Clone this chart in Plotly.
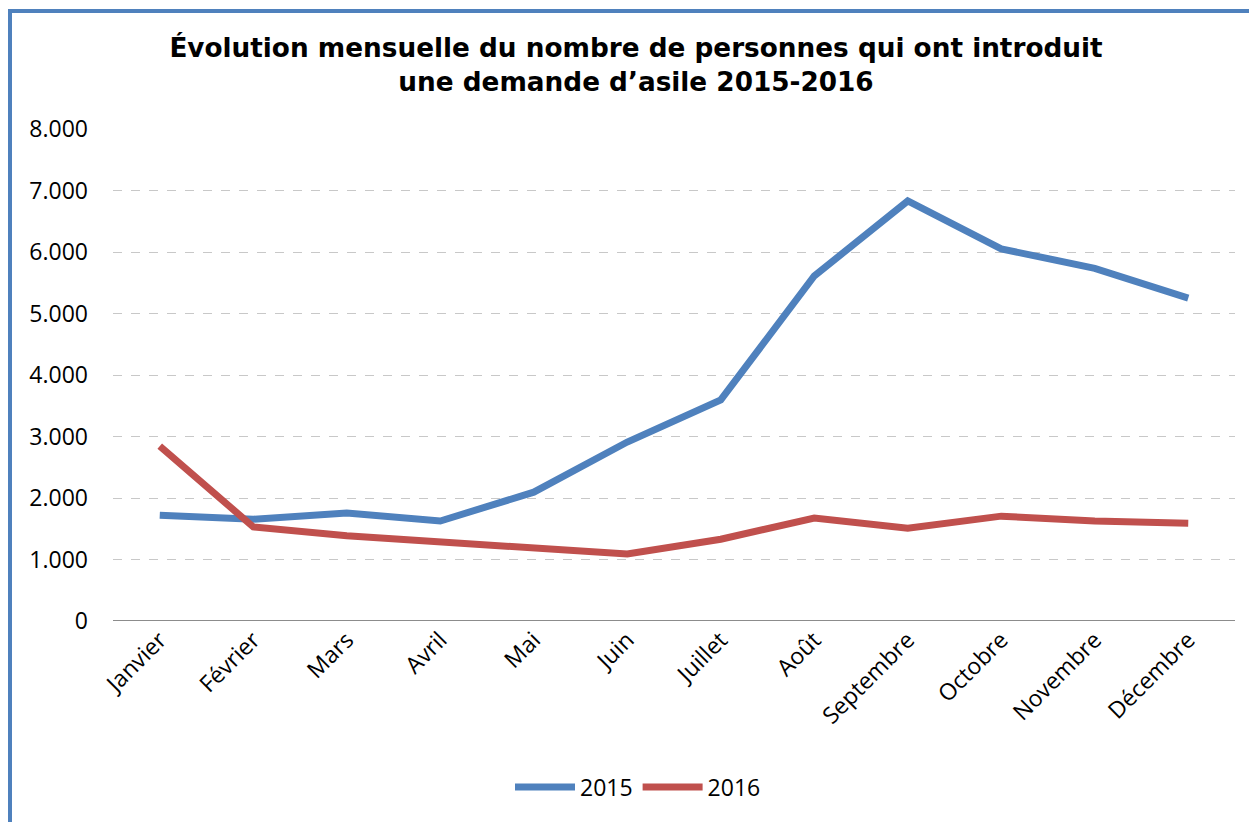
import plotly.graph_objects as go

months = ["Janvier", "Février", "Mars", "Avril", "Mai", "Juin", "Juillet",
          "Août", "Septembre", "Octobre", "Novembre", "Décembre"]
v2015 = [1720, 1655, 1755, 1625, 2095, 2910, 3595, 5610, 6830, 6050, 5735, 5250]
v2016 = [2845, 1530, 1385, 1290, 1205, 1090, 1330, 1675, 1510, 1705, 1625, 1590]
yticks = [0, 1000, 2000, 3000, 4000, 5000, 6000, 7000, 8000]

fig = go.Figure()
fig.add_trace(go.Scatter(x=months, y=v2015, name="2015", mode="lines",
                         line=dict(color="#4F81BD", width=7)))
fig.add_trace(go.Scatter(x=months, y=v2016, name="2016", mode="lines",
                         line=dict(color="#C0504D", width=7)))

OFF = 8  # page body margin
W, H = 1257, 822
PL, PR, PT, PB = 113, 1235, 129, 621  # target plot box in screen px
L, T = PL - OFF, PT - OFF
R = W - (PR - OFF)
B = H - (PB - OFF)
pw, ph = PR - PL, PB - PT

def px_x(p):
    return (p - PL) / pw

def px_y(p):
    return (PB - p) / ph

fig.update_layout(
    width=W, height=H,
    margin=dict(l=L, r=R, t=T, b=B),
    paper_bgcolor="white", plot_bgcolor="white",
    separators=",.",
    title=dict(text="Évolution mensuelle du nombre de personnes qui ont introduit<br>une demande d’asile 2015-2016",
               x=(636 - OFF) / W, xanchor="center", y=1 - (57 - OFF) / H, yanchor="middle",
               font=dict(family="DejaVu Sans", size=26.3, color="black", weight="bold")),
    xaxis=dict(range=[-0.5, 11.5], tickangle=-45, showgrid=False,
               tickfont=dict(family="Open Sans", size=23, color="black"),
               showline=False, ticks=""),
    yaxis=dict(range=[0, 8000], tickvals=yticks, tickformat=",d",
               showgrid=True, gridcolor="#C8C8C8", griddash="dash", gridwidth=1,
               zeroline=False, showline=False, ticks="", ticklabelstandoff=24,
               tickfont=dict(family="Open Sans", size=23, color="black")),
    legend=dict(orientation="h", x=px_x(638), xanchor="center", y=px_y(787), yanchor="middle",
                font=dict(family="Open Sans", size=23, color="black"),
                itemwidth=60, traceorder="normal"),
    showlegend=True,
)

# zero axis line
fig.add_shape(type="line", xref="paper", yref="y", x0=0, x1=1, y0=0, y1=0,
              line=dict(color="#8C8C8C", width=2), layer="below")
# chart border (left and top)
fig.add_shape(type="line", xref="paper", yref="paper", x0=px_x(10), x1=px_x(10),
              y0=px_y(10), y1=px_y(840), line=dict(color="#4F81BD", width=4))
fig.add_shape(type="line", xref="paper", yref="paper", x0=px_x(8), x1=px_x(1280),
              y0=px_y(11), y1=px_y(11), line=dict(color="#4F81BD", width=4))

fig.write_html("out.html")
